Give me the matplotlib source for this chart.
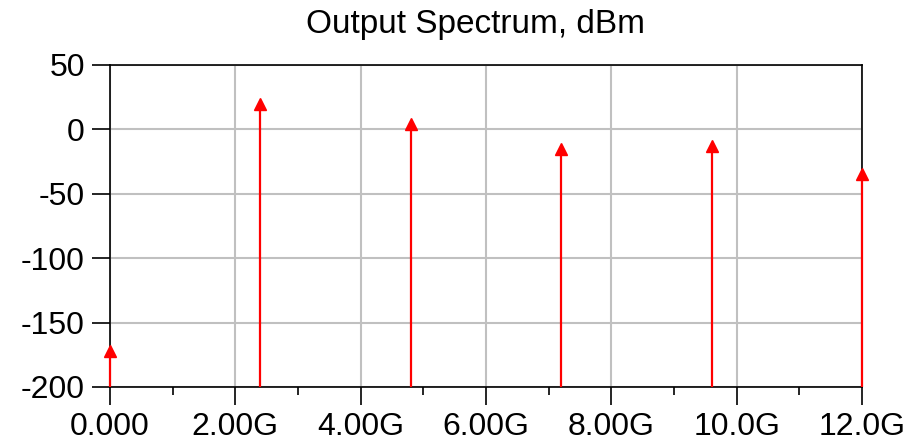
import numpy as np
import matplotlib
matplotlib.use("Agg")
import matplotlib.pyplot as plt

plt.rcParams['font.family'] = ['Liberation Sans', 'DejaVu Sans']
plt.rcParams['axes.unicode_minus'] = False

# harmonic frequencies (GHz) and power levels (dBm)
freq_ghz = [0.0, 2.4, 4.8, 7.2, 9.6, 12.0]
power_dbm = [-172, 19.7, 4.2, -15.2, -13, -34.6]

xticks = [0, 2, 4, 6, 8, 10, 12]
xlabels = ['0.000', '2.00G', '4.00G', '6.00G', '8.00G', '10.0G', '12.0G']
yticks = [-200, -150, -100, -50, 0, 50]

fig = plt.figure(figsize=(9.12, 4.44), dpi=100)
ax = fig.add_axes([110/912, 57/444, 752/912, 322/444])

ax.vlines(freq_ghz, -200, power_dbm, color='red', linewidth=1.6, zorder=3, clip_on=False)
ax.plot(freq_ghz, power_dbm, linestyle='none', marker='^', markersize=9,
        color='red', zorder=4, clip_on=False)

ax.set_xlim(0, 12)
ax.set_ylim(-200, 50)
ax.set_xticks(xticks)
ax.set_xticklabels(xlabels)
ax.set_xticks([1, 3, 5, 7, 9, 11], minor=True)
ax.set_yticks(yticks)

ax.grid(True, which='major', color='#c0c0c0', linewidth=1.5)
ax.set_axisbelow(True)
ax.tick_params(axis='both', which='major', labelsize=23, length=13, width=1.2, pad=5)
ax.tick_params(axis='x', which='minor', length=6, width=1.2)
for s in ax.spines.values():
    s.set_linewidth(1.2)

fig.text(476/912, 1 - 25/444, 'Output Spectrum, dBm', fontsize=24,
         ha='center', va='center')

fig.savefig('out.png', dpi=100)
